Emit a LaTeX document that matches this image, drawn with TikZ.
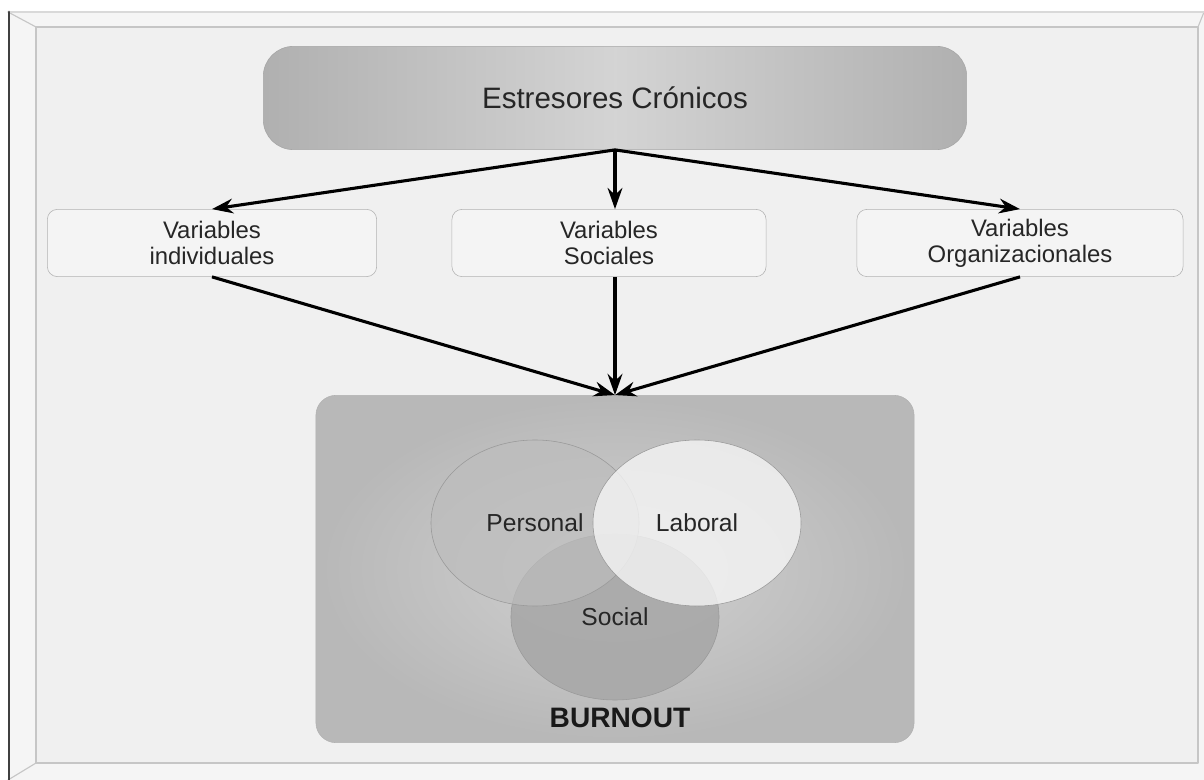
\documentclass[tikz,border=0pt]{standalone}
\usepackage{fontspec}
\setmainfont{Liberation Sans}
\usetikzlibrary{arrows.meta,shapes.geometric}

\begin{document}
\begin{tikzpicture}[x=0.025cm,y=-0.025cm,>={Stealth[length=15pt,width=10.5pt]}, line join=round, line cap=round,
		topbox/.style={draw=gray!70,left color=gray!62,right color=gray!62,middle color=gray!34,rounded corners=0.75cm,
			minimum width=17.58cm,minimum height=2.58cm,font=\fontsize{21}{24}\selectfont,text=black!85},
		varbox/.style={draw=gray!60,fill=gray!9,rounded corners=0.25cm,minimum height=1.68cm,align=center,
			font=\fontsize{17}{18.5}\selectfont,text=black!85},
		vennset/.style={ellipse,draw=gray!80,inner sep=0pt,minimum width=5.2cm,minimum height=4.15cm,
			font=\fontsize{17.5}{20}\selectfont,text=black!85},
		link/.style={->,line width=2.2pt,line cap=butt}]
	\useasboundingbox (0,0) rectangle (1204,780);
	% marco
	\fill[white] (0,0) rectangle (1204,780);
	\fill[gray!8] (8,12) rectangle (1204,780);
	\draw[gray!45,fill=gray!12,line width=0.8pt] (36,27) rectangle (1198,763);
	\draw[gray!45,line width=0.8pt] (8,12)--(36,27) (8,780)--(36,763) (1204,12)--(1198,27);
	\draw[gray!30,line width=0.8pt] (8,12)--(1204,12);
	\draw[black!75,line width=2pt] (9,12)--(9,780);
	% nodos
	\node[topbox] (estr) at (615,98) {Estresores Crónicos};
	\node[varbox,minimum width=8.23cm] (indiv) at (212,243) {Variables\\individuales};
	\node[varbox,minimum width=7.85cm] (soc) at (609,243) {Variables\\Sociales};
	\node[varbox,minimum width=8.15cm] (org) at (1020,243) {Variables\\Organizacionales};
	\node[draw=gray!60,inner color=gray!36,outer color=gray!56,rounded corners=0.5cm,
		minimum width=14.95cm,minimum height=8.68cm] (burn) at (615,569) {};
	\node[vennset,fill=gray!68,fill opacity=0.9,text opacity=1] (social) at (615,617) {Social};
	\node[vennset,fill=gray!52,fill opacity=0.7,text opacity=1] (pers) at (535,523) {Personal};
	\node[vennset,fill=gray!8,fill opacity=0.8,text opacity=1] (labo) at (697,523) {Laboral};
	\node[font=\bfseries\fontsize{20}{24}\selectfont,text=black!90] (burnlbl) at (620,718) {BURNOUT};
	% flechas
	\draw[link] (estr.south) -- (indiv.north);
	\draw[link] (estr.south) -- (estr.south |- soc.north);
	\draw[link] (estr.south) -- (org.north);
	\draw[link] (indiv.south) -- (burn.north);
	\draw[link] (soc.south -| burn.north) -- (burn.north);
	\draw[link] (org.south) -- (burn.north);
\end{tikzpicture}
\end{document}
